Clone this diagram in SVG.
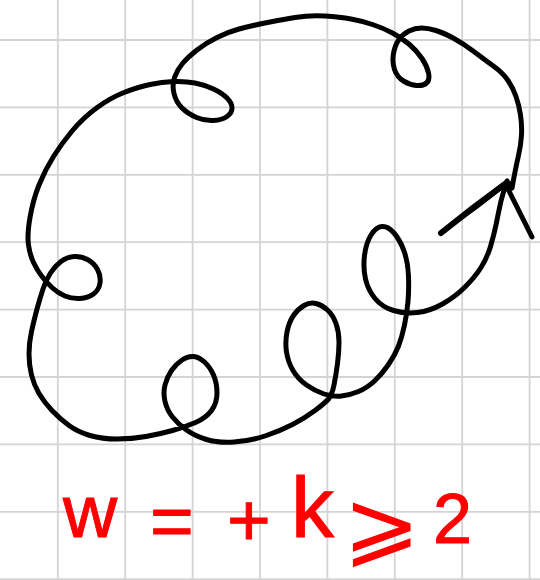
<svg xmlns="http://www.w3.org/2000/svg" width="540" height="580" viewBox="0 0 540 580">
<style>
.grid line{stroke:#d4d4d4;stroke-width:1.8}
.ink{fill:none;stroke:#000;stroke-width:5;stroke-linecap:round;stroke-linejoin:round}
.lbl{fill:#ff0000;stroke:#ff0000;stroke-width:1;font-family:"Liberation Sans","DejaVu Sans",sans-serif}
</style>
<rect width="540" height="580" fill="#fff"/>
<g id="grid" class="grid">
<line x1="57.8" y1="0" x2="57.8" y2="580"/>
<line x1="125.2" y1="0" x2="125.2" y2="580"/>
<line x1="192.6" y1="0" x2="192.6" y2="580"/>
<line x1="260" y1="0" x2="260" y2="580"/>
<line x1="327.4" y1="0" x2="327.4" y2="580"/>
<line x1="394.8" y1="0" x2="394.8" y2="580"/>
<line x1="462.2" y1="0" x2="462.2" y2="580"/>
<line x1="529.6" y1="0" x2="529.6" y2="580"/>
<line x1="0" y1="40" x2="540" y2="40"/>
<line x1="0" y1="107.4" x2="540" y2="107.4"/>
<line x1="0" y1="174.8" x2="540" y2="174.8"/>
<line x1="0" y1="242.2" x2="540" y2="242.2"/>
<line x1="0" y1="309.6" x2="540" y2="309.6"/>
<line x1="0" y1="377" x2="540" y2="377"/>
<line x1="0" y1="444.4" x2="540" y2="444.4"/>
<line x1="0" y1="511.8" x2="540" y2="511.8"/>
<line x1="0" y1="579.2" x2="540" y2="579.2"/>
</g>
<g id="connectors">
<path id="loop-curve" class="ink" d="M507,181 L512,188 Q516,166 518.5,155.5 Q521,145 521.5,135 Q522,125 520.5,115 Q519,105 516,96.5 Q513,88 508,80.5 Q503,73 494,66.5 Q485,60 474.5,52 Q464,44 454,38.5 Q444,33 436,30.5 Q428,28 421.5,28 Q415,28 409,31 Q403,34 399,39.5 Q395,45 393.5,53.5 Q392,62 394.5,69.5 Q397,77 403.5,81 Q410,85 416.5,85.5 Q423,86 426.5,83 Q430,80 428.5,73 Q427,66 422,58.5 Q417,51 409.5,44.5 Q402,38 392.5,33 Q383,28 372.5,24.5 Q362,21 351,19 Q340,17 325,16 Q310,15 295,17.5 Q280,20 265,23 Q250,26 239,29 Q228,32 217,37.5 Q206,43 197,50 Q188,57 182.5,63.5 Q177,70 174.5,77.5 Q172,85 174,93.5 Q176,102 182,108 Q188,114 196.5,117.5 Q205,121 213.5,120.5 Q222,120 227,116.5 Q232,113 232,108 Q232,103 227,98 Q222,93 213.5,89 Q205,85 195,83 Q185,81 173.5,81.5 Q162,82 150,84.5 Q138,87 124,92.5 Q110,98 96.5,108 Q83,118 72.5,130.5 Q62,143 53.5,156.5 Q45,170 39,185 Q33,200 30,217.5 Q27,235 28.5,245 Q30,255 33.5,262.5 Q37,270 42,276.5 Q47,283 52.5,288 Q58,293 65,296 Q72,299 80,298.5 Q88,298 93.5,294 Q99,290 100,283 Q101,276 97.5,269.5 Q94,263 87.5,259.5 Q81,256 74,256.5 Q67,257 61,261.5 Q55,266 50.5,273 Q46,280 43,289 Q40,298 37,309 Q34,320 31.5,331.5 Q29,343 29,354 Q29,365 31.5,375 Q34,385 39,393.5 Q44,402 52,410.5 Q60,419 69,425.5 Q78,432 90,435.5 Q102,439 117,439 Q132,439 146,436.5 Q160,434 172.5,430.5 Q185,427 195.5,422.5 Q206,418 211.5,410.5 Q217,403 217,393 Q217,383 213.5,375 Q210,367 204.5,362 Q199,357 193.5,356.5 Q188,356 182,360 Q176,364 171.5,370.5 Q167,377 165,385 Q163,393 165,401.5 Q167,410 172.5,417 Q178,424 186.5,430 Q195,436 206.5,439.5 Q218,443 234,442 Q250,441 265,436 Q280,431 292.5,424.5 Q305,418 315,410.5 Q325,403 328.5,399 Q332,395 334,385 Q336,375 337.5,363.5 Q339,352 339,342 Q339,332 336,323.5 Q333,315 327.5,310 Q322,305 316,303.5 Q310,302 304,305.5 Q298,309 293.5,315.5 Q289,322 287,332 Q285,342 286.5,352 Q288,362 293,370.5 Q298,379 306.5,385 Q315,391 324,394 Q333,397 341.5,396 Q350,395 358.5,391.5 Q367,388 374.5,381 Q382,374 388.5,364.5 Q395,355 398.5,346 Q402,337 404.5,325 Q407,313 408,301.5 Q409,290 408.5,276 Q408,262 404,251 Q400,240 394,233 Q388,226 382,226.5 Q376,227 371,235 Q366,243 364.5,255.5 Q363,268 365.5,279 Q368,290 375,298.5 Q382,307 393.5,310.5 Q405,314 417.5,312.5 Q430,311 442.5,304 Q455,297 465,287 Q475,277 481,267.5 Q487,258 490.5,246.5 Q494,235 496.5,222.5 Q499,210 501,201 Q503,192 507,183"/>
<path id="arrow-shaft" class="ink" style="stroke-width:6" d="M441,233 Q472,208 505,184"/>
<path id="arrow-shaft2" class="ink" style="stroke-width:3" d="M446,228 Q478,209 504,185"/>
<line id="arrow-barb" class="ink" x1="507" y1="187" x2="532" y2="237"/>
</g>
<g id="formula">
<text class="lbl"><tspan x="63" y="537" font-size="75">w</tspan><tspan x="150" y="546" font-size="75">=</tspan><tspan x="227" y="546" font-size="75">+</tspan><tspan x="291" y="537" font-size="86">k</tspan><tspan x="343" y="556" font-size="92" stroke="none" font-family="DejaVu Sans, sans-serif">⩾</tspan><tspan x="433" y="543" font-size="70">2</tspan></text>
</g>
</svg>
